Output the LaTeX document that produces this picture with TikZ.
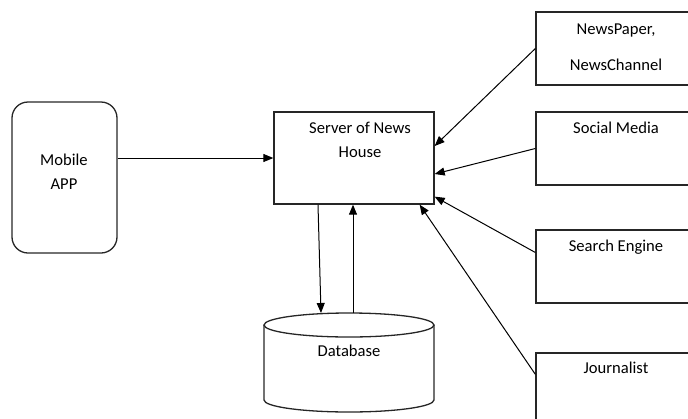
\documentclass[tikz,border=0pt]{standalone}
\usepackage{fontspec}
\setmainfont{Carlito}
\usetikzlibrary{arrows.meta,positioning}

\begin{document}
\begin{tikzpicture}[
  x=1pt, y=-1pt,
  box/.style={draw=black!85, line width=1.3pt, minimum width=160pt, inner sep=0pt},
  appbox/.style={draw=black!85, line width=1.3pt, rounded corners=16pt,
                 minimum width=105pt, minimum height=151pt, inner sep=0pt},
  lbl/.style={font=\fontsize{16.6}{24}\selectfont, align=center, inner sep=0pt},
  flow/.style={-{Triangle[length=10pt,width=8pt]}, line width=1pt},
  dbline/.style={draw=black!85, line width=1.3pt},
]
\useasboundingbox (0,0) rectangle (688,418);

% left and middle
\node[appbox] (mob) at (64.5,177.5) {};
\node[lbl] (mobtxt) at (64,172) {Mobile\\APP};
\node[box, minimum height=92pt] (srv) at (354,158) {};
\node[lbl] (srvtxt) at (360,140) {Server of News\\House};

% database cylinder
\draw[dbline] (264,325) -- (264,400) arc[start angle=180, end angle=360, x radius=85pt, y radius=12pt] -- (434,325);
\draw[dbline] (349,325) ellipse[x radius=85pt, y radius=12pt];
\node[lbl] (dbtxt) at (349,351) {Database};
\coordinate (dbin) at (321,313);
\coordinate (dbout) at (353,313);

% sources on the right
\node[box, minimum height=73pt] (news) at (616,48.5) {};
\node[lbl, align=center] (newstxt) at (616,47) {NewsPaper,\\[12pt]NewsChannel};
\node[box, minimum height=73pt] (soc) at (616,148.5) {};
\node[lbl] (soctxt) at (616,128) {Social Media};
\node[box, minimum height=73pt] (srch) at (616,266.5) {};
\node[lbl] (srchtxt) at (616,247) {Search Engine};
\node[box, minimum height=80pt] (jour) at (616,393) {};
\node[lbl] (jourtxt) at (616,368) {Journalist};

% connectors
\draw[flow] (mob.east |- srv.west) -- (srv.west);
\draw[flow] ([xshift=-36pt]srv.south) -- (dbin);
\draw[flow] (dbout) -- ([xshift=-1pt]srv.south);
\draw[flow] (news.west) -- ([yshift=12pt]srv.east);
\draw[flow] (soc.west) -- ([yshift=-16pt]srv.east);
\draw[flow] ([yshift=14pt]srch.west) -- ([yshift=8pt]srv.south east);
\draw[flow] ([yshift=-22pt]jour.north west) -- ([xshift=-15pt]srv.south east);

\end{tikzpicture}
\end{document}
